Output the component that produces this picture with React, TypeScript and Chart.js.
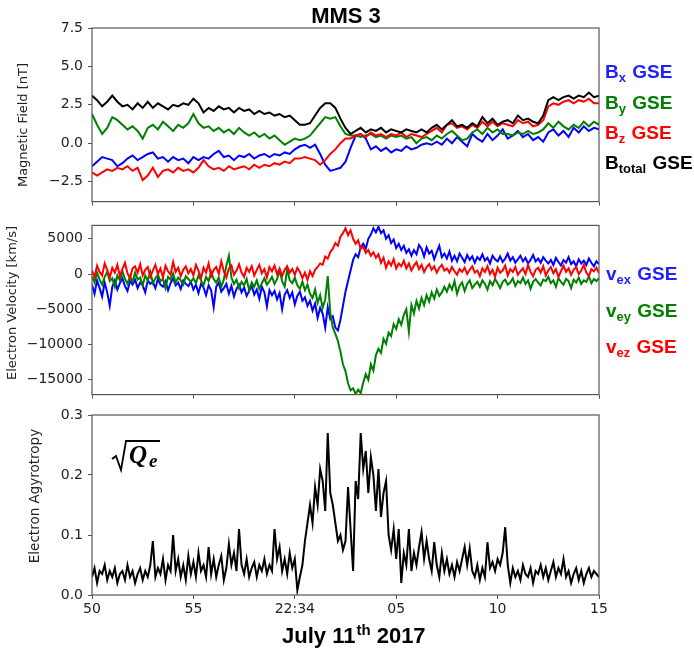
import React, { useEffect, useRef } from 'react';
import { Chart, registerables } from 'chart.js';

Chart.register(...registerables);

// ---- X axis (seconds after 22:33:50 UT) ----
const X_TICKS = [0, 5, 10, 15, 20, 25];
const X_TICK_LABELS = ['50', '55', '22:34', '05', '10', '15'];

// ---- Panel 1: magnetic field [nT] ----
const B_TOTAL = [
  3.1, 2.8, 2.4, 2.7, 3.1, 2.7, 2.4, 2.5, 2.2, 2.6,
  2.3, 2.7, 2.3, 2.6, 2.4, 2.2, 2.5, 2.4, 2.6, 2.5,
  2.9, 2.6, 2.0, 2.3, 2.1, 2.4, 2.2, 2.3, 2.0, 2.3,
  2.1, 2.2, 1.9, 2.1, 1.9, 2.0, 1.8, 1.9, 1.7, 1.8,
  1.5, 1.2, 1.2, 1.3, 1.8, 2.3, 2.6, 2.6, 2.3, 1.6,
  1.0, 0.6, 0.8, 1.0, 0.7, 0.9, 0.8, 1.0, 0.7, 0.9,
  0.8, 0.7, 0.9, 0.8, 0.7, 0.9, 0.7, 1.0, 1.2, 0.9,
  1.2, 1.5, 1.1, 1.2, 1.0, 1.3, 1.1, 1.7, 1.3, 1.6,
  1.2, 1.4, 1.5, 1.3, 1.8, 1.5, 1.6, 1.4, 1.3, 1.8,
  2.8, 3.0, 2.8, 3.0, 3.1, 2.9, 3.1, 3.0, 3.3, 3.0, 3.1,
];
const BZ = [
  -1.9, -2.1, -1.9, -1.7, -1.8, -1.6, -1.7, -1.5, -1.8, -1.6,
  -2.4, -2.1, -1.6, -2.2, -1.8, -1.7, -1.9, -1.6, -1.8, -1.7,
  -1.9, -1.6, -1.1, -1.5, -1.7, -1.6, -1.8, -1.5, -1.7, -1.6,
  -1.5, -1.7, -1.4, -1.6, -1.4, -1.5, -1.3, -1.4, -1.2, -1.3,
  -1.0, -1.0, -0.9, -1.0, -1.1, -1.4, -1.1, -0.7, -0.4, 0.0,
  0.3, 0.3, 0.5, 0.6, 0.4, 0.7, 0.5, 0.6, 0.4, 0.6,
  0.5, 0.7, 0.4, 0.6, 0.5, 0.4, 0.6, 0.8, 1.0, 0.7,
  1.2, 1.3, 1.0, 1.1, 0.9, 1.2, 1.0, 1.4, 1.1, 1.4,
  1.1, 1.3, 1.2, 1.1, 1.5, 1.3, 1.4, 1.1, 1.2, 1.5,
  2.4, 2.6, 2.5, 2.7, 2.8, 2.6, 2.8, 2.7, 2.9, 2.6, 2.6,
];
const BY = [
  1.9, 1.2, 0.6, 1.0, 1.7, 1.5, 1.2, 0.9, 1.1, 0.8,
  0.3, 1.0, 1.2, 0.9, 1.4, 1.1, 0.8, 1.2, 1.0, 1.3,
  1.9, 1.3, 1.0, 1.1, 0.8, 1.0, 0.7, 0.9, 0.6, 1.0,
  0.7, 0.5, 0.7, 0.4, 0.6, 0.3, 0.5, 0.2, -0.1, 0.1,
  0.3, 0.2, 0.3, 0.5, 0.9, 1.3, 1.7, 1.6, 1.7, 1.1,
  0.6, 0.5, 0.5, 0.4, 0.5, 0.6, 0.4, 0.5, 0.3, 0.5,
  0.4, 0.5, 0.3, 0.4, 0.0, 0.3, 0.4, 0.2, 0.5, 0.3,
  0.6, 0.8, 0.5, 0.2, 0.3, 0.7, 0.9, 0.6, 1.0, 0.7,
  0.9, 0.6, 0.6, 0.5, 0.7, 0.6, 0.8, 0.6, 0.7, 0.9,
  1.3, 1.0, 1.4, 1.1, 0.9, 1.2, 1.0, 1.4, 1.1, 1.4, 1.2,
];
const BX = [
  -1.5, -1.2, -0.9, -1.0, -1.1, -1.5, -1.3, -1.0, -0.8, -1.1,
  -0.9, -0.7, -0.6, -1.0, -0.9, -1.2, -0.9, -1.1, -1.0, -1.3,
  -0.9, -1.1, -0.9, -1.0, -0.7, -0.5, -0.9, -0.8, -1.1, -0.8,
  -0.9, -0.7, -1.0, -0.8, -0.7, -0.9, -0.7, -0.8, -0.6, -0.7,
  -0.4, -0.2, -0.1, -0.3, -0.1, -0.7, -1.4, -1.8, -1.7, -1.6,
  -1.2, -0.3, 0.5, 0.6, 0.3, -0.4, -0.2, -0.5, -0.3, -0.6,
  -0.4, -0.5, -0.2, -0.4, -0.3, -0.1, 0.0, -0.1, 0.1, -0.1,
  0.3, 0.0, 0.4, 0.1, -0.2, 0.6, 0.3, 0.1, 0.6, 0.2,
  0.5, 0.9, 0.3, 0.5, 0.8, 0.4, 0.6, 0.2, 0.4, 0.1,
  0.7, 0.9, 0.5, 0.8, 0.4, 1.0, 0.7, 1.1, 0.8, 1.0, 0.9,
];

// ---- Panel 2: electron velocity [km/s] ----
const VEX = [
  -1500, -2800, -900, -2000, -3200, -1200, -2600, -4500,
  -1800, -900, -2200, -1300, -600, -1700, -2400, -1000, -1500, -800, -2000, -1200, -1600, -2600, -900, -1400,
  -1100, -2000, -700, -1500, -1800, -1000, -2300, -1300, -600, -1600, -1200, -2100, -900, -1400, -1700, -1100,
  -2200, -1500, -2700, -1400, -1900, -3000, -1600, -2300, -4700, -1800, -1200, -2500, -2000, -1400, -2800, -1700,
  -3200, -2100, -1500, -2600, -1900, -3100, -2400, -1700, -2900, -2200, -3500, -1800, -2600, -4600, -2300,
  -3000, -2400, -3600, -2700, -5000, -2900, -2300, -3400, -2600, -4300, -3100, -2500, -3800,
  -3300, -4500, -3800, -5200, -4200, -6200, -4800, -5600, -7600, -4700, -6400,
  -6000, -7600, -8000, -6500, -4500, -2500, -1000, 500,
  2000, 2800, 2400, 3800, 4300, 3600, 5000, 5600, 6500, 5900, 6700, 5800, 6200, 5000, 5500, 4400, 4900, 3700,
  4300, 3400, 4000, 3000, 3500, 2600, 3400, 2800, 4100, 3600, 2500, 3800, 2900, 3300, 2100, 3100, 4000, 2400, 2900,
  2200, 3200, 1900, 2600, 1800, 2900, 2300, 1700, 2700, 2000, 2500, 1600, 2400,
  2000, 2800, 1900, 2300, 1500, 2600, 2100, 1800, 2500, 1700, 2200, 2900, 1900, 2400, 1600, 2100, 2600, 1800,
  2300, 1500, 2000, 2700, 1800, 2200, 1600, 2400, 1900,
  1500, 2000, 1300, 2300, 1700, 1200, 2000, 1600, 2400, 1400, 1800, 1100, 2100, 1500, 1900, 1300, 2200, 1600,
  1100, 1800, 1400,
];
const VEY = [
  -300, -1200, 200, -800, -1500, -400, 300, -1000, -600, -1800, -200, -900, 400, -700, -1400, -300, -1100, 200,
  -800, -500, -1600, -200, -900, 300, -1300, -600, -100, -1000, -700, -2000, -400, -800, 100, -1200, -500, -900,
  -1500, -300, -700, -1100,
  -600, -1300, -200, -900, -1600, -400, -1000, 300, -700, -1200, -500, -1800, -800, 1200, 2600, -500,
  -1400, -800, -2000, -1100, -1600, -700, -2300, -1200, -1800, -900, -2100, -1300, -600, -1500, -1000,
  -400, -1400, -700, 500, -1000, -1800, 700, -900, -1300, -500, -1600, -2100, -1100,
  -2300, -1500, -2800, -3400, -2200, -4100, -3000, -4800, -3600, -300, -5500,
  -7600, -8500, -9500, -11000, -12800, -13800, -15500, -16500,
  -16200, -17000, -16400, -16900, -15400, -14200, -15000, -12800, -13700, -11500,
  -10600, -11200, -9200, -9900, -8300, -8800, -7100, -7800, -6400, -7200, -5800,
  -5000, -8200, -4400, -5600, -3800, -4900, -3400, -4400, -3000, -3900, -2600, -3500, -2200, -3100, -2600, -1800,
  -2500, -1500, -2200, -1000, -2800, -1700, -1200, -2400, -1400, -900, -2000, -1500, -1100,
  -1800, -900, -1400, -2200, -1000, -1600, -700, -1300, -2000, -1100, -800, -1500, -1200, -600, -1700, -1000,
  -1300, -500, -1400, -900, -2100, -1100, -700, -1200, -1600, -800, -1000, -400, -1300, -900, -1800, -600,
  -1100, -1500, -700, -1000, -2000, -800, -1200, -500, -1400, -900, -1100, -300, -1300, -700, -1000, -600,
];
const VEZ = [
  500, -400, 1200, 300, -200, 1500, 600, -500, 900, 200, 1300, -300, 700, 1600, 100, -600, 800, 1100, 200, 1400,
  -200, 600, 1000, -400, 500, 1300, 0, 800, -500, 1200, 400, -100, 1700, 300, 900, -300, 600, 1100, 100, 700,
  -200, 1300, 500, -600, 900, 200, 1500, -300, 600, 1000, 0, 1800, 400, -500, 800, 1200, -100, 500, 1400, 200,
  -400, 900, 300, 1100, -200, 600, 1300, 100, 700, -500, 1000, 400, 1200, 0, 800, -300, 600, 1100, 200, 700,
  -100, 900, 300,
  -600, 200, -800, 400, -300, 600,
  1000, 1500, 1300, 2500, 2200, 3100, 3600, 4400, 4000, 5300, 5800,
  6500, 5500, 6200, 5000, 4300, 4800, 3600,
  3900, 3000, 3400, 2600, 3100, 2300, 2800,
  1600, 2300, 900, 1800, 1200, 2100, 800, 1500, 1100, 1900,
  800, 1500, 500, 1200, 1700, 700, 1300, 300, 1000, 1400, 600, 1100, 200, 900, 1300, 500,
  800, 200, 1000, 400, -100, 700, 300, 900, 0, 600, 1100, 200, 500,
  -300, 800, 300, 1100, 0, 600, -400, 900, 200, 500, 1200, -200, 700, 300, 1000, -100, 400, 800, 0, 1300, 300,
  -300, 600, 900, 200, 1100, -200, 500, 1000, 100, 700, -400, 400, 1200, 300, 800, -100, 600, 1000, 0, 500,
  1300, 200, -300, 700, 400, 900, 100,
];

// ---- Panel 3: electron agyrotropy sqrt(Qe) ----
const AGYRO = [
  0.03, 0.045, 0.02, 0.04, 0.035, 0.05, 0.025, 0.04, 0.03, 0.045, 0.02, 0.035, 0.04, 0.025, 0.05, 0.03,
  0.04, 0.02, 0.035, 0.045, 0.025, 0.04, 0.03, 0.05,
  0.09,
  0.03, 0.045, 0.035, 0.06, 0.025, 0.05, 0.04,
  0.1,
  0.04, 0.06, 0.03, 0.05, 0.025, 0.065, 0.035, 0.055, 0.03, 0.07, 0.04, 0.05, 0.03,
  0.08,
  0.035, 0.06, 0.03, 0.05, 0.065, 0.025, 0.045,
  0.085,
  0.05, 0.07, 0.04, 0.11,
  0.05, 0.035, 0.06, 0.03, 0.045, 0.055, 0.03, 0.05, 0.04, 0.06, 0.035, 0.05, 0.04,
  0.11,
  0.06, 0.08, 0.04, 0.06, 0.035, 0.07, 0.045, 0.06, 0.008, 0.03, 0.05,
  0.09, 0.12, 0.15, 0.12, 0.18, 0.15, 0.21, 0.19, 0.14, 0.27, 0.17, 0.15, 0.12, 0.09, 0.1, 0.075,
  0.09, 0.18, 0.11, 0.04, 0.19, 0.16, 0.27, 0.21, 0.24, 0.17, 0.23, 0.2, 0.14, 0.21, 0.13, 0.17,
  0.19, 0.1, 0.075, 0.11, 0.06, 0.11, 0.02, 0.07, 0.05, 0.11, 0.04, 0.07, 0.05, 0.08, 0.105, 0.06,
  0.09, 0.06, 0.04, 0.088, 0.05, 0.03, 0.07, 0.04, 0.06, 0.035, 0.05, 0.03, 0.055, 0.04, 0.06, 0.08,
  0.05, 0.078, 0.04, 0.03, 0.05, 0.025, 0.045, 0.03, 0.088, 0.045, 0.055, 0.04, 0.06, 0.05, 0.07, 0.113,
  0.05, 0.02,
  0.045, 0.03, 0.04, 0.025, 0.05, 0.035, 0.03, 0.045, 0.02, 0.04, 0.035, 0.05, 0.03, 0.045, 0.025, 0.04,
  0.055, 0.03, 0.045, 0.035, 0.06, 0.03, 0.04, 0.02, 0.035, 0.045, 0.025, 0.04, 0.02, 0.035, 0.045, 0.03,
  0.04, 0.035, 0.03,
];

const Y1_TICKS = [-2.5, 0, 2.5, 5, 7.5];
const Y2_TICKS = [-15000, -10000, -5000, 0, 5000];
const Y3_TICKS = [0, 0.1, 0.2, 0.3];

const W = 694;
const PLOT_LEFT = 92;
const PLOT_RIGHT = 599;
const AXIS_COLOR = '#555';
const TEXT_COLOR = '#222';
const TICK_FONT = { family: '"DejaVu Sans", sans-serif', size: 14 };
const BOLD = '"Liberation Sans", Arial, sans-serif';

const minus = (s: string) => s.replace('-', '\u2212');

function timeAxis(n: number): number[] {
  // samples evenly spread across the 25 s window
  return Array.from({ length: n }, (_, i) => (i * 25) / (n - 1));
}

function legendEntry(ctx: CanvasRenderingContext2D, x: number, y: number, main: string, sub: string, color: string) {
  ctx.fillStyle = color;
  ctx.textAlign = 'left';
  ctx.textBaseline = 'alphabetic';
  ctx.font = `bold 19px ${BOLD}`;
  ctx.fillText(main, x, y);
  let cx = x + ctx.measureText(main).width;
  ctx.font = `bold 13px ${BOLD}`;
  ctx.fillText(sub, cx, y + 4);
  cx += ctx.measureText(sub).width;
  ctx.font = `bold 19px ${BOLD}`;
  ctx.fillText(' GSE', cx + 1, y);
}

function yTitle(ctx: CanvasRenderingContext2D, text: string, x: number, y: number, size: number) {
  ctx.save();
  ctx.translate(x, y);
  ctx.rotate(-Math.PI / 2);
  ctx.fillStyle = TEXT_COLOR;
  ctx.font = `${size}px "DejaVu Sans", sans-serif`;
  ctx.textAlign = 'center';
  ctx.textBaseline = 'middle';
  ctx.fillText(text, 0, 0);
  ctx.restore();
}

interface Series { values: number[]; color: string }
interface Panel {
  canvasTop: number;
  canvasHeight: number;
  plotTop: number;
  plotBottom: number;
  yMin: number;
  yMax: number;
  yTicks: number[];
  yFormat: (v: number) => string;
  xLabels: boolean;
  series: Series[];
  draw: (ctx: CanvasRenderingContext2D) => void;
}

const PANELS: Panel[] = [
  {
    canvasTop: 0, canvasHeight: 215, plotTop: 28, plotBottom: 209,
    yMin: -3.8, yMax: 7.5, yTicks: Y1_TICKS, yFormat: (v) => minus(v.toFixed(1)),
    xLabels: false,
    series: [
      { values: B_TOTAL, color: '#000000' },
      { values: BZ, color: '#ff0000' },
      { values: BY, color: '#008000' },
      { values: BX, color: '#0000ff' },
    ],
    draw: (ctx) => {
      ctx.fillStyle = '#000';
      ctx.font = `bold 22px ${BOLD}`;
      ctx.textAlign = 'center';
      ctx.textBaseline = 'alphabetic';
      ctx.fillText('MMS 3', 346, 23);
      yTitle(ctx, 'Magnetic Field [nT]', 24, 125, 13);
      legendEntry(ctx, 605, 78, 'B', 'x', '#1f1fff');
      legendEntry(ctx, 605, 109, 'B', 'y', '#008000');
      legendEntry(ctx, 605, 139, 'B', 'z', '#ff0000');
      legendEntry(ctx, 605, 169, 'B', 'total', '#000000');
    },
  },
  {
    canvasTop: 212, canvasHeight: 196, plotTop: 221, plotBottom: 402,
    yMin: -17100, yMax: 6900, yTicks: Y2_TICKS, yFormat: (v) => minus(String(v)),
    xLabels: false,
    series: [
      { values: VEZ, color: '#ff0000' },
      { values: VEY, color: '#008000' },
      { values: VEX, color: '#0000ff' },
    ],
    draw: (ctx) => {
      yTitle(ctx, 'Electron Velocity [km/s]', 13, 303, 13);
      legendEntry(ctx, 606, 280, 'v', 'ex', '#1f1fff');
      legendEntry(ctx, 606, 317, 'v', 'ey', '#008000');
      legendEntry(ctx, 606, 353, 'v', 'ez', '#ff0000');
    },
  },
  {
    canvasTop: 400, canvasHeight: 249, plotTop: 415, plotBottom: 595,
    yMin: 0, yMax: 0.3, yTicks: Y3_TICKS, yFormat: (v) => v.toFixed(1),
    xLabels: true,
    series: [{ values: AGYRO, color: '#000000' }],
    draw: (ctx) => {
      yTitle(ctx, 'Electron Agyrotropy', 35, 496, 13.5);
      // sqrt(Q_e) annotation
      ctx.strokeStyle = '#000';
      ctx.lineWidth = 1.8;
      ctx.lineJoin = 'miter';
      ctx.beginPath();
      ctx.moveTo(112, 459);
      ctx.lineTo(116, 456);
      ctx.lineTo(121, 470);
      ctx.lineTo(126, 441);
      ctx.lineTo(160, 441);
      ctx.stroke();
      ctx.fillStyle = '#000';
      ctx.textAlign = 'left';
      ctx.textBaseline = 'alphabetic';
      ctx.font = 'italic bold 25px "Liberation Serif", "DejaVu Serif", serif';
      ctx.fillText('Q', 129, 463);
      ctx.font = 'italic bold 19px "Liberation Serif", "DejaVu Serif", serif';
      ctx.fillText('e', 149, 467);
      // x-axis title
      ctx.font = `bold 22px ${BOLD}`;
      const a = 'July 11';
      ctx.fillText(a, 282, 643);
      let cx = 282 + ctx.measureText(a).width + 1;
      ctx.font = `bold 15px ${BOLD}`;
      ctx.fillText('th', cx, 635);
      cx += ctx.measureText('th').width;
      ctx.font = `bold 22px ${BOLD}`;
      ctx.fillText(' 2017', cx, 643);
    },
  },
];

function PanelChart({ panel }: { panel: Panel }) {
  const ref = useRef<HTMLCanvasElement>(null);
  useEffect(() => {
    const canvas = ref.current;
    if (!canvas) return;
    const p = panel;
    const n = p.series[0].values.length;
    const gridOpts = {
      display: true,
      drawOnChartArea: false,
      drawTicks: true,
      tickLength: 4,
      color: AXIS_COLOR,
      lineWidth: 1,
    };
    const chart = new Chart(canvas, {
      type: 'line',
      data: {
        labels: timeAxis(n),
        datasets: p.series.map((s) => ({
          data: s.values,
          borderColor: s.color,
          backgroundColor: s.color,
          borderWidth: 2,
          pointRadius: 0,
          tension: 0,
          fill: false,
        })),
      },
      options: {
        animation: false,
        responsive: false,
        maintainAspectRatio: false,
        events: [],
        layout: {
          padding: { left: 0, right: W - PLOT_RIGHT, top: p.plotTop - p.canvasTop, bottom: 0 },
        },
        plugins: {
          legend: { display: false },
          tooltip: { enabled: false },
          title: { display: false },
        },
        scales: {
          x: {
            type: 'linear',
            min: 0,
            max: 25,
            afterBuildTicks: (s: any) => {
              s.ticks = X_TICKS.map((v) => ({ value: v }));
            },
            afterFit: (s: any) => {
              s.height = p.canvasTop + p.canvasHeight - p.plotBottom;
            },
            ticks: {
              display: p.xLabels,
              autoSkip: false,
              maxRotation: 0,
              padding: 2,
              color: TEXT_COLOR,
              font: TICK_FONT,
              callback: (_v: any, i: number) => X_TICK_LABELS[i],
            },
            grid: gridOpts,
            border: { display: false },
          },
          y: {
            type: 'linear',
            min: p.yMin,
            max: p.yMax,
            afterBuildTicks: (s: any) => {
              s.ticks = p.yTicks.map((v) => ({ value: v }));
            },
            afterFit: (s: any) => {
              s.width = PLOT_LEFT;
            },
            ticks: {
              autoSkip: false,
              padding: 5,
              color: TEXT_COLOR,
              font: TICK_FONT,
              callback: (v: any) => p.yFormat(Number(v)),
            },
            grid: gridOpts,
            border: { display: false },
          },
        },
      },
      plugins: [
        {
          id: 'frameAndText',
          afterDraw(c: any) {
            const ctx: CanvasRenderingContext2D = c.ctx;
            const a = c.chartArea;
            ctx.save();
            ctx.strokeStyle = AXIS_COLOR;
            ctx.lineWidth = 1.2;
            ctx.strokeRect(a.left, a.top, a.right - a.left, a.bottom - a.top);
            ctx.restore();
            ctx.save();
            ctx.translate(0, -p.canvasTop);
            p.draw(ctx);
            ctx.restore();
          },
        },
      ],
    } as any);
    return () => chart.destroy();
  }, [panel]);
  return (
    <canvas
      ref={ref}
      width={W}
      height={panel.canvasHeight}
      style={{ position: 'absolute', left: 0, top: panel.canvasTop, width: W, height: panel.canvasHeight, display: 'block' }}
    />
  );
}

export default function App() {
  return (
    <div style={{ position: 'absolute', left: 0, top: 0, width: W, height: 649, background: '#ffffff', overflow: 'hidden' }}>
      {PANELS.map((p, i) => (
        <PanelChart key={i} panel={p} />
      ))}
    </div>
  );
}
